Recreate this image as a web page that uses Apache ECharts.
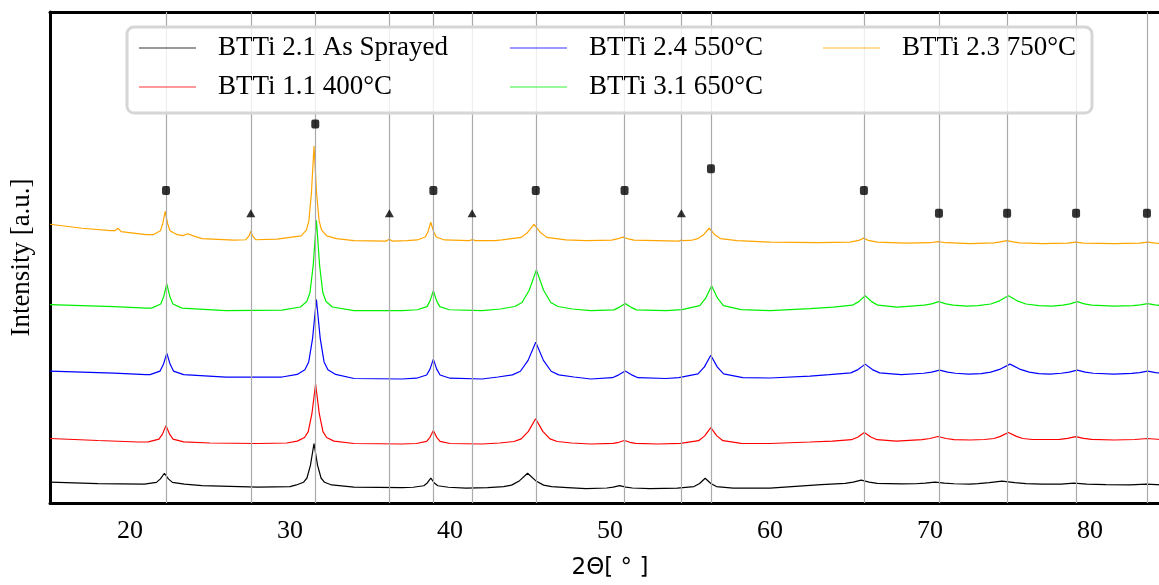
<!DOCTYPE html>
<html>
<head>
<meta charset="utf-8">
<script src="https://cdn.jsdelivr.net/npm/echarts@6/dist/echarts.min.js"></script>
<style>html,body{margin:0;padding:0;background:#fff;overflow:hidden}#c{width:1170px;height:585px}</style>
</head>
<body>
<div id="c"></div>
<script>
// ---- data (2θ in degrees, intensity in arbitrary units incl. vertical offset) ----
const seriesNames = ['BTTi 2.1 As Sprayed', 'BTTi 1.1 400°C', 'BTTi 2.4 550°C', 'BTTi 3.1 650°C', 'BTTi 2.3 750°C'];
const seriesColors = ['#000000', '#ff0000', '#0000ff', '#00f000', '#ffa500'];

const asSprayed = [
  [15,21],[18,19.5],[20.9,19],[21.65,20.8],[21.9,24.3],[22.15,30],[22.4,24.3],[22.65,20.8],[23.4,19],[24.5,17.5],[28,16],[30,16.5],
  [30.4,18.2],[30.84,20.9],[31.06,25.2],[31.28,38.2],[31.5,60],[31.72,38.2],[31.94,25.2],[32.16,20.9],[32.6,18.2],[34,16],[37,15.5],
  [37.7,15.9],[38.36,17.4],[38.58,20.2],[38.8,25],[39.02,20.2],[39.24,17.4],[39.9,15.9],[41,15],
  [42.35,15.6],[43.35,16.5],[43.85,18],[44.35,22.5],[44.85,30],[45.35,22.5],[45.85,18],[46.35,16.5],[47.35,15.6],[48.5,14.5],
  [49.8,15.1],[50.2,16],[50.6,17.5],[51,16],[51.4,15.1],[52.5,14.5],
  [54.2,14.9],[55.25,16.6],[55.6,19.7],[55.95,25],[56.3,19.7],[56.65,16.6],[57.7,14.9],[60,15],[63.2,18.5],
  [64.7,19.8],[65.2,21],[65.7,23],[66.2,21],[66.7,19.8],[68.2,19.2],
  [69.1,19.4],[69.7,20],[70.3,21],[70.9,20],[71.5,19.4],[72.5,19],
  [73,19.6],[73.7,20.5],[74.5,22],[75.3,20.5],[76,19.6],[77,19],
  [78.2,19],[79,20],[79.8,19],[81,18.5],[82.5,18.3],[83.5,19],[84.5,18.3],[85,18]
];
const t400 = [
  [15,65],[18,63],[20.5,61.5],[21.15,61.7],[21.81,64.4],[22.03,69.5],[22.25,78],[22.47,69.5],[22.69,64.4],[23.35,61.7],[25,60.5],[28,60],[29.8,60.5],
  [30.45,62.4],[30.91,66],[31.14,72],[31.37,90],[31.6,120],[31.83,90],[32.06,72],[32.29,66],[32.75,62.4],[34,60],[37,59.5],
  [37.9,60],[38.54,62.2],[38.75,66.2],[38.96,73],[39.17,66.2],[39.38,62.2],[40.0,60],[42,59.5],
  [43.1,60.5],[44.0,62],[44.45,64.6],[44.9,72.2],[45.35,85],[45.8,72.2],[46.25,64.6],[46.7,62],[47.6,60.5],[48.8,59.5],
  [50.2,60.2],[50.55,61.2],[50.9,63],[51.25,61.2],[51.6,60.2],[53,59.5],
  [54.4,60.2],[55.54,62.8],[55.92,67.7],[56.3,76],[56.68,67.7],[57.06,62.8],[58.2,60.2],[60,60],[62.5,61.5],
  [63.9,62.4],[65.1,63.8],[65.5,66.5],[65.9,71],[66.3,66.5],[66.7,63.8],[67.9,62.4],
  [69.5,63.8],[70,65],[70.5,67],[71,65],[71.5,63.8],[72.5,63.5],
  [73.4,64],[74.0,65],[74.4,67.2],[74.9,71],[75.4,67.2],[75.8,65],[76.4,64],
  [78.1,64.2],[78.6,65.2],[79.1,67],[79.6,65.2],[80.1,64.2],[81.5,63.5],
  [82.8,64],[83.6,65],[84.4,64],[85,63.5]
];
const t550 = [
  [15,133],[19,131],[21.0,129.5],[21.25,129.4],[21.88,133],[22.09,139.8],[22.3,151],[22.51,139.8],[22.72,133],[23.35,129.4],[26,127],[29.5,127],
  [30.45,129.6],[30.93,134.4],[31.17,142.2],[31.41,165.8],[31.65,205],[31.89,165.8],[32.13,142.2],[32.37,134.4],[32.85,129.6],[34,125.5],[37,125],
  [37.9,125.8],[38.54,129],[38.75,135],[38.96,145],[39.17,135],[39.38,129],[40.0,125.8],[42,125],
  [43.0,127],[43.9,129.2],[44.4,132.8],[44.88,143.8],[45.36,162],[45.84,143.8],[46.32,132.8],[46.8,129.2],[47.75,127],[48.8,125],
  [50.15,126.3],[50.55,129.2],[50.95,133],[51.35,129.2],[51.75,126.3],[53.5,125.5],
  [54.3,126.4],[55.5,130.2],[55.9,137.2],[56.3,149],[56.7,137.2],[57.1,130.2],[58.3,126.4],[60,126],[62.5,128],
  [63.7,129.4],[65.05,131.2],[65.5,134.5],[65.95,140],[66.4,134.5],[66.85,131.2],[68.2,129.4],
  [69.6,130.8],[70.1,132],[70.6,134],[71.1,132],[71.6,130.8],[72.4,130],
  [73.2,130.5],[73.8,132],[74.4,135],[75.0,140],[75.6,135],[76.2,132],[76.8,130.5],[77.5,130],
  [78.2,130.8],[78.7,132],[79.2,134],[79.7,132],[80.2,130.8],[81.5,130],
  [82.6,130.6],[83.1,131.5],[83.6,133],[84.1,131.5],[84.6,130.6],[85,130]
];
const t650 = [
  [15,200],[19,198],[21.0,196.5],[21.35,196.5],[21.92,200.6],[22.11,208.2],[22.3,221],[22.49,208.2],[22.68,200.6],[23.25,196.5],[26,194],[29.5,194.5],
  [30.65,197.6],[31.05,203.1],[31.25,212.2],[31.45,239.5],[31.65,285],[31.85,239.5],[32.05,212.2],[32.25,203.1],[32.65,197.6],[34,194],[37,194],
  [37.96,194.8],[38.56,198],[38.76,204],[38.96,214],[39.16,204],[39.36,198],[39.96,194.8],[42,194],
  [43.15,195.6],[44.05,198.1],[44.5,202.2],[44.95,214.5],[45.4,235],[45.85,214.5],[46.3,202.2],[46.75,198.1],[47.65,195.6],[48.8,194],
  [50.25,194.7],[50.6,197.5],[50.95,201],[51.3,197.5],[51.65,194.7],[53.5,194],
  [54.5,195],[55.61,199],[55.98,206.5],[56.35,219],[56.72,206.5],[57.09,199],[58.2,195],[60,194],[62.5,196],
  [63.95,197.5],[65.15,199.4],[65.55,203],[65.95,209],[66.35,203],[66.75,199.4],[67.95,197.5],[68.8,198.5],
  [69.65,199.4],[70.1,200.8],[70.55,203],[71,200.8],[71.45,199.4],[72.3,198.5],
  [73.0,199],[73.8,200.6],[74.35,203.8],[74.9,209],[75.45,203.8],[76.0,200.6],[76.8,199],[77.6,198.5],
  [78.3,199.4],[78.75,200.8],[79.2,203],[79.65,200.8],[80.1,199.4],[81.5,198.5],
  [82.7,199],[83.15,199.8],[83.6,201],[84.05,199.8],[84.5,199],[85,198.5]
];
const t750 = [
  [15,281],[17,277],[18.8,274.5],[19.05,274.5],[19.25,277],[19.45,273.5],[21,270.5],
  [21.45,270.5],[21.9,274.4],[22.05,281.8],[22.2,294],[22.35,281.8],[22.5,274.4],[22.95,270.5],
  [23.3,269.5],[23.6,271.5],[24.0,269],[24.5,266.5],[26.5,265],
  [27.25,265.4],[27.45,269.5],[27.55,274],[27.65,269.5],[27.85,265.4],[29.2,266],
  [30.7,269.3],[31.02,275],[31.18,284.4],[31.34,312.8],[31.5,360],[31.66,312.8],[31.82,284.4],[31.98,275],[32.3,269.3],[32.9,266.5],[34,264.5],
  [36.0,264],[36.2,266],[36.4,264],[37.3,264.5],
  [37.95,265.2],[38.46,268.2],[38.63,273.8],[38.8,283],[38.97,273.8],[39.14,268.2],[39.65,265.2],
  [41.2,264.5],[41.4,265.5],[41.6,264.5],[42.8,264.5],
  [43.25,265.2],[44.45,267.8],[44.85,272.8],[45.25,281],[45.65,272.8],[46.05,267.8],[47.25,265.2],[48.5,264.5],
  [50.1,265],[50.45,266.2],[50.8,268],[51.15,266.2],[51.5,265],[54.3,264],[54.46,265],[54.6,264.5],
  [55.15,265.1],[55.5,266.6],[55.85,270.5],[56.2,277],[56.55,270.5],[56.9,266.6],[57.95,264.5],[60,263],[63,262.5],
  [65.0,263],[65.55,264.7],[65.85,267],[66.15,264.7],[66.7,263],[68.5,262],
  [70.0,262.4],[70.5,263.5],[71.0,262.4],[72.5,261.5],
  [74.0,262.3],[74.4,263.2],[74.8,264.5],[75.2,263.2],[75.6,262.3],[77,261.5],
  [78.6,262],[79.1,263],[79.6,262],[81.5,261.5],[83.1,262],[83.6,263],[84.1,262],[85,261]
];
const patterns = [asSprayed, t400, t550, t650, t750];

// reference reflection positions and marker heights
const squarePeaks = [22.25, 31.58, 38.96, 45.36, 50.91, 56.31, 65.87, 70.56, 74.82, 79.13, 83.56];
const squareHeights = [315, 382, 315, 315, 315, 337, 315, 292, 292, 292, 292];
const trianglePeaks = [27.55, 36.21, 41.38, 54.46];
const triangleHeights = [292, 292, 292, 292];

const xTickLabels = [20, 30, 40, 50, 60, 70, 80];

// ---- chart ----
const chart = echarts.init(document.getElementById('c'), null, {renderer: 'canvas'});
const serif = "'Liberation Serif', 'DejaVu Serif', serif";

const lineSeries = patterns.map((d, i) => ({
  name: seriesNames[i],
  type: 'line',
  data: d,
  showSymbol: false,
  symbol: 'none',
  smooth: false,
  z: 3,
  lineStyle: {color: seriesColors[i], width: 1.2},
  itemStyle: {color: seriesColors[i]}
}));

const refLines = squarePeaks.concat(trianglePeaks).map(v => ({xAxis: v}));

const legendBase = {
  orient: 'vertical',
  icon: 'rect',
  itemWidth: 57,
  itemHeight: 2,
  itemGap: 9,
  padding: 0,
  z: 12,
  selectedMode: false,
  itemStyle: {opacity: 0.4},
  textStyle: {fontFamily: serif, fontSize: 27, color: '#000', lineHeight: 30, padding: [0, 0, 0, 17]}
};

const hiddenAxisBits = {axisTick: {show: false}, axisLabel: {show: false}, splitLine: {show: false}};

chart.setOption({
  animation: false,
  backgroundColor: '#fff',
  grid: {left: 50, right: 0, top: 12, bottom: 78},
  xAxis: [{
    type: 'value', min: 15, max: 85,
    name: '2Θ[ ° ]', nameLocation: 'middle', nameGap: 54,
    nameTextStyle: {fontFamily: "'DejaVu Sans', sans-serif", fontSize: 23, color: '#000'},
    axisLine: {show: true, lineStyle: {color: '#000', width: 3}},
    axisTick: {show: false},
    splitLine: {show: false},
    axisLabel: {customValues: xTickLabels, fontFamily: serif, fontSize: 26, color: '#000', margin: 15}
  }, Object.assign({
    type: 'value', min: 15, max: 85, position: 'top',
    axisLine: {show: true, lineStyle: {color: '#000', width: 3}}
  }, hiddenAxisBits)],
  yAxis: Object.assign({
    type: 'value', min: 0, max: 495,
    name: 'Intensity [a.u.]', nameLocation: 'middle', nameGap: 15,
    nameTextStyle: {fontFamily: serif, fontSize: 27, color: '#000'},
    axisLine: {show: true, lineStyle: {color: '#000', width: 3}}
  }, hiddenAxisBits),
  legend: [
    Object.assign({}, legendBase, {left: 139, top: 33, data: [seriesNames[0], seriesNames[1]]}),
    Object.assign({}, legendBase, {left: 510, top: 33, data: [seriesNames[2], seriesNames[3]]}),
    Object.assign({}, legendBase, {left: 823, top: 33, data: [seriesNames[4]]})
  ],
  graphic: [{
    type: 'rect', z: 10, silent: true,
    shape: {x: 127, y: 27, width: 965, height: 86, r: 7},
    style: {fill: 'rgba(255,255,255,0.8)', stroke: '#d6d6d6', lineWidth: 3}
  }],
  series: lineSeries.concat([
    {
      type: 'scatter', name: 'refs', z: 1, silent: true,
      data: [], symbolSize: 0,
      markLine: {
        silent: true, symbol: ['none', 'none'], label: {show: false},
        lineStyle: {color: '#aaaaaa', width: 1.2, type: 'solid'},
        data: refLines, animation: false
      }
    },
    {
      type: 'scatter', name: 'squares', z: 5, silent: true,
      symbol: 'roundRect', symbolSize: [8, 9],
      itemStyle: {color: '#000'},
      data: squarePeaks.map((v, i) => [v, squareHeights[i]])
    },
    {
      type: 'scatter', name: 'triangles', z: 5, silent: true,
      symbol: 'triangle', symbolSize: [9, 8],
      itemStyle: {color: '#000'},
      data: trianglePeaks.map((v, i) => [v, triangleHeights[i]])
    }
  ])
});
</script>
</body>
</html>
